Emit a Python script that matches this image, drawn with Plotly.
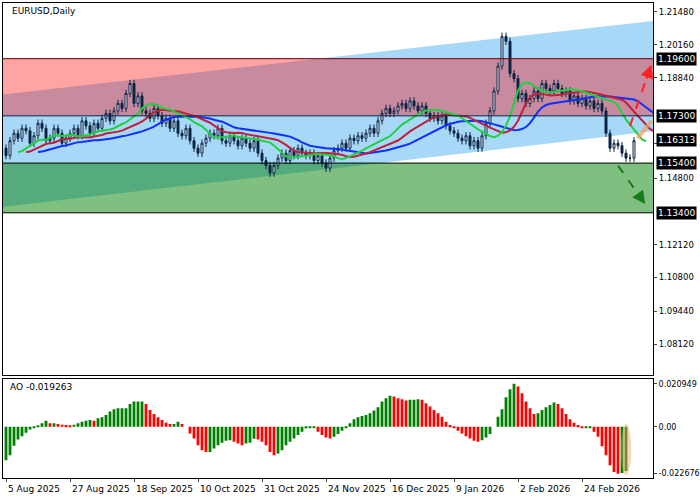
import plotly.graph_objects as go
from plotly.subplots import make_subplots
import numpy as np
import pandas as pd

closes = [1.157,1.163,1.166,1.164,1.168,1.167,1.162,1.165,1.170,1.168,1.163,1.164,1.168,1.166,1.162,1.164,
1.166,1.168,1.165,1.171,1.169,1.166,1.170,1.168,1.172,1.174,1.171,1.175,1.178,1.176,1.182,1.186,
1.178,1.181,1.175,1.174,1.172,1.176,1.173,1.170,1.172,1.168,1.171,1.166,1.165,1.168,1.163,1.160,
1.158,1.162,1.164,1.166,1.165,1.168,1.163,1.162,1.165,1.163,1.161,1.164,1.162,1.160,1.163,1.158,
1.155,1.153,1.150,1.153,1.156,1.158,1.155,1.159,1.157,1.160,1.158,1.157,1.158,1.155,1.157,1.154,
1.152,1.156,1.159,1.160,1.162,1.160,1.164,1.163,1.165,1.164,1.166,1.168,1.166,1.171,1.174,1.176,
1.174,1.175,1.177,1.178,1.176,1.179,1.177,1.175,1.177,1.174,1.172,1.173,1.171,1.173,1.169,1.167,
1.166,1.164,1.163,1.165,1.161,1.163,1.160,1.165,1.170,1.175,1.183,1.193,1.205,1.203,1.190,1.188,
1.180,1.182,1.178,1.180,1.183,1.180,1.186,1.184,1.183,1.186,1.184,1.182,1.183,1.179,1.181,1.178,
1.180,1.177,1.179,1.176,1.178,1.175,1.166,1.160,1.162,1.161,1.158,1.156,1.156,1.163]
opens = [1.160] + closes[:-1]
wick = 0.0015
ao_px = [-100,-85,-57,-38,-28,-18,-8,-4,2,10,18,10,10,8,6,5,3,6,10,15,18,20,18,25,28,35,45,52,55,55,55,68,75,75,75,68,50,38,28,20,12,8,8,15,8,0,
-20,-35,-55,-70,-75,-75,-65,-55,-48,-42,-40,-45,-50,-55,-50,-48,-36,-38,-45,-55,-75,-85,-80,-70,-55,-45,-35,-25,-15,-5,-2,-2,-15,-25,-32,-35,-30,-22,-12,-3,
10,22,28,32,35,40,48,58,75,85,92,90,85,82,78,80,80,82,80,70,60,50,40,30,15,5,-3,-12,-20,-28,-35,-42,-45,-40,-32,-22,0,30,52,88,112,128,120,100,75,55,38,40,50,58,65,72,68,55,38,22,12,5,-3,-2,-2,-15,-30,-58,-85,-115,-135,-140,-138,-132]
ao = [v*0.0001637 for v in ao_px]
date_labels = ["5 Aug 2025","27 Aug 2025","18 Sep 2025","10 Oct 2025","31 Oct 2025","24 Nov 2025","16 Dec 2025","9 Jan 2026","2 Feb 2026","24 Feb 2026"]
levels = [1.196, 1.173, 1.154, 1.134]
last_price = 1.16313

n = len(closes)
idx = np.arange(n)
highs = [max(o, c) + wick for o, c in zip(opens, closes)]
lows = [min(o, c) - wick for o, c in zip(opens, closes)]
med = pd.Series([(h + l) / 2 for h, l in zip(highs, lows)])

def smma(s, p):
    return s.ewm(alpha=1 / p, adjust=False).mean()

fig = make_subplots(rows=2, cols=1, shared_xaxes=False, row_heights=[0.79, 0.21], vertical_spacing=0.009)
XR = [-0.75, 161.75]

fig.add_shape(type="path", path=f"M {XR[0]},1.1816 L {XR[1]},1.2112 L {XR[1]},1.1668 L {XR[0]},1.1364 Z",
              fillcolor="#a8d8f8", line=dict(width=0), layer="below", xref="x", yref="y")
fig.add_shape(type="rect", x0=XR[0], x1=XR[1], y0=1.173, y1=1.196, fillcolor="rgba(255,0,0,0.36)",
              line=dict(width=0), layer="below", xref="x", yref="y")
fig.add_shape(type="rect", x0=XR[0], x1=XR[1], y0=1.134, y1=1.154, fillcolor="rgba(0,128,0,0.5)",
              line=dict(width=0), layer="below", xref="x", yref="y")
for lv, col in zip(levels, ["#6b0010", "#0b2545", "#000000", "#000000"]):
    fig.add_shape(type="line", x0=XR[0], x1=XR[1], y0=lv, y1=lv, line=dict(color=col, width=1), xref="x", yref="y")

fig.add_trace(go.Candlestick(x=idx, open=opens, high=highs, low=lows, close=closes,
    increasing=dict(line=dict(color="#0b2545", width=1), fillcolor="white"),
    decreasing=dict(line=dict(color="#0b2545", width=1), fillcolor="#0b2545"),
    whiskerwidth=0, showlegend=False), row=1, col=1)

for p, sh, col in [(13, 8, "#1030ff"), (8, 5, "#c0203a"), (5, 3, "#20d040")]:
    fig.add_trace(go.Scatter(x=idx + sh, y=smma(med, p), mode="lines", line=dict(color=col, width=2),
                             showlegend=False, hoverinfo="skip"), row=1, col=1)

for (x0, y0, x1, y1, col) in [(156, 1.169, 161.3, 1.1935, "#ff2020"), (153, 1.153, 159.8, 1.1375, "#1a7a1a")]:
    fig.add_shape(type="line", x0=x0, y0=y0, x1=x1, y1=y1, xref="x", yref="y",
                  line=dict(color=col, width=2, dash="dash"))
    fig.add_annotation(x=x1, y=y1, ax=x1 - (x1 - x0) * 0.25, ay=y1 - (y1 - y0) * 0.25, xref="x", yref="y",
                       axref="x", ayref="y", showarrow=True, arrowhead=2, arrowsize=1.3, arrowwidth=2,
                       arrowcolor=col, text="")
fig.add_shape(type="path", path="M 157.5,1.1645 L 161,1.1715 L 161.8,1.1705 L 158.3,1.1635 Z",
              fillcolor="rgba(245,160,100,0.75)", line=dict(width=0), xref="x", yref="y")

ao_cols = ["#008000" if i == 0 or ao[i] >= ao[i - 1] else "#ff0000" for i in range(len(ao))]
fig.add_trace(go.Bar(x=np.arange(len(ao)), y=ao, marker=dict(color=ao_cols, line=dict(width=0)),
                     width=0.7, showlegend=False), row=2, col=1)
fig.add_shape(type="circle", x0=len(ao) - 2.3, x1=len(ao) + 0.3, y0=-0.0235, y1=0.0014,
              fillcolor="rgba(245,160,100,0.45)", line=dict(width=0), xref="x2", yref="y2")

price_ticks = [1.2148, 1.2016, 1.1884, 1.1620, 1.1480, 1.1212, 1.1080, 1.0944, 1.0812, 1.0680]
fig.update_xaxes(range=XR, showgrid=False, zeroline=False, showline=True, linecolor="black", mirror=True,
                 rangeslider=dict(visible=False), showticklabels=False, ticks="", automargin=False, row=1, col=1)
fig.update_xaxes(range=XR, showgrid=False, zeroline=False, showline=True, linecolor="black", mirror=True,
                 tickvals=[16 * i for i in range(len(date_labels))], showticklabels=False,
                 ticks="outside", ticklen=3, automargin=False, row=2, col=1)
fig.update_yaxes(range=[1.0688, 1.2184], side="right", tickvals=price_ticks,
                 ticktext=[f"{v:.5f}" for v in price_ticks], showgrid=False, zeroline=False, automargin=False,
                 showline=True, linecolor="black", mirror=True, ticks="outside", ticklen=3, row=1, col=1)
fig.update_yaxes(range=[-0.025, 0.0232], side="right", tickvals=[0.020949, 0, -0.022676],
                 ticktext=["0.020949", "0.00", "-0.022676"], showgrid=False, zeroline=False, automargin=False,
                 showline=True, linecolor="black", mirror=True, ticks="outside", ticklen=3,
                 tickfont=dict(size=8), row=2, col=1)

for i, lab in enumerate(date_labels):
    fig.add_annotation(x=16 * i, y=0, xref="x2", yref="paper", yshift=-4, text=lab, showarrow=False,
                       xanchor="left", yanchor="top", font=dict(size=9, color="black"))

for lv, txt in [(1.196, "1.19600"), (1.173, "1.17300"), (last_price, "1.16313"), (1.154, "1.15400"), (1.134, "1.13400")]:
    fig.add_annotation(x=1.004, y=lv, xref="paper", yref="y", text=txt, showarrow=False, xanchor="left",
                       font=dict(color="white", size=9), bgcolor="black", borderpad=1)

fig.add_annotation(x=0.01, y=0.998, xref="paper", yref="paper", text="EURUSD,Daily", showarrow=False,
                   xanchor="left", yanchor="top", font=dict(size=9, color="black"))
fig.add_annotation(x=0.008, y=0.995, xref="x2 domain", yref="y2 domain", text="AO -0.019263", showarrow=False,
                   xanchor="left", yanchor="top", font=dict(size=9, color="black"))

fig.update_layout(width=700, height=500, margin=dict(l=3, r=47, t=3, b=22, autoexpand=False),
                  paper_bgcolor="white", plot_bgcolor="white",
                  font=dict(family="DejaVu Sans", size=8.5, color="black"),
                  bargap=0.2, hovermode=False)
fig.write_html("out.html", config={"displayModeBar": False},
               post_script="document.body.style.margin='0';document.body.style.overflow='hidden';")
